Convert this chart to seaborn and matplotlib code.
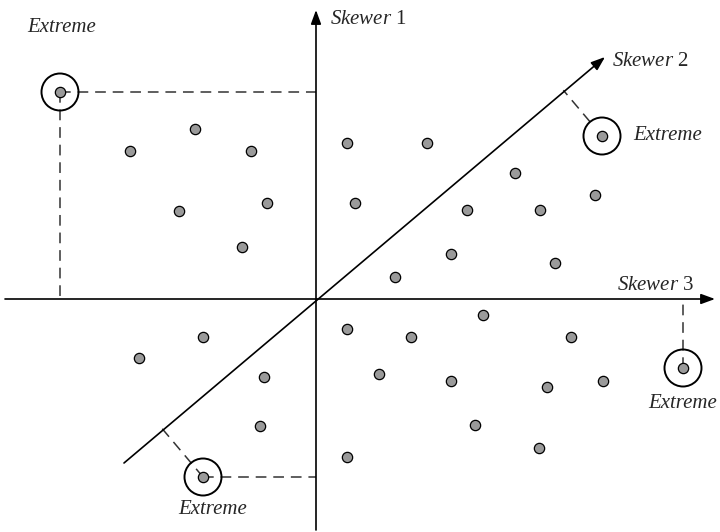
import numpy as np
import pandas as pd
import matplotlib
matplotlib.use('Agg')
import matplotlib.pyplot as plt
import seaborn as sns

# point positions relative to the origin (1 unit = 1 px)
pts_x = [-186, -121, -65, -137, -49, -74,
         31, 111, 199, 39, 151, 224, 279, 135, 239, 79,
         -113, -177, -52, -56,
         31, 167, 95, 255, 63, 135, 231, 287, 159, 223, 31]
pts_y = [148, 170, 148, 88, 96, 52,
         156, 156, 126, 96, 89, 89, 104, 45, 36, 22,
         -38, -59, -78, -127,
         -30, -16, -38, -38, -75, -82, -88, -82, -126, -149, -158]

# extreme points
ext_x = [-256, 286, 367, -113]
ext_y = [207, 163, -69, -178]

# skewer 2 direction
sk2_start = (-192, -164)
sk2_end = (289, 242)

sns.set_style('white')
plt.rcParams['font.family'] = ['Liberation Serif', 'DejaVu Serif']
plt.rcParams['mathtext.fontset'] = 'custom'
plt.rcParams['mathtext.it'] = 'Liberation Serif:italic'
plt.rcParams['mathtext.rm'] = 'Liberation Serif'

fig = plt.figure(figsize=(7.2, 5.32), dpi=100)
ax = fig.add_axes([0, 0, 1, 1])
ax.set_xlim(-316, 404)
ax.set_ylim(-233, 299)
ax.set_aspect('equal')
ax.axis('off')

arrow = dict(arrowstyle='-|>,head_length=0.6,head_width=0.22', color='black',
             lw=1.2, mutation_scale=14, shrinkA=0, shrinkB=0)
ax.annotate('', xy=(399, 0), xytext=(-311, 0), arrowprops=arrow)
ax.annotate('', xy=(0, 289), xytext=(0, -231), arrowprops=arrow)
ax.annotate('', xy=sk2_end, xytext=sk2_start, arrowprops=arrow)

# dashed projection lines
r_ext = 18.5
d = np.array(sk2_end, float) - np.array(sk2_start, float)
d /= np.linalg.norm(d)
dash = dict(color='#333333', lw=1.1, ls=(0, (7, 4.5)), zorder=1)
ax.plot([ext_x[0], 0], [ext_y[0], ext_y[0]], **dash)
ax.plot([ext_x[0], ext_x[0]], [ext_y[0], 0], **dash)
ax.plot([ext_x[2], ext_x[2]], [ext_y[2], 0], **dash)
ax.plot([ext_x[3], 0], [ext_y[3], ext_y[3]], **dash)
for i, start_r in ((1, r_ext), (3, 0)):
    p = np.array([ext_x[i], ext_y[i]], float)
    foot = d * np.dot(p, d)
    u = (foot - p) / np.linalg.norm(foot - p)
    s = p + u * start_r
    ax.plot([s[0], foot[0]], [s[1], foot[1]], **dash)

df = pd.DataFrame({'x': pts_x + ext_x, 'y': pts_y + ext_y})
sns.scatterplot(data=df, x='x', y='y', ax=ax, s=55, color='#9a9a9a',
                edgecolor='black', linewidth=0.9, zorder=3, legend=False)
for x, y in zip(ext_x, ext_y):
    ax.add_patch(plt.Circle((x, y), r_ext, fill=False, ec='black', lw=1.4, zorder=2))

fs = 15
ax.text(14, 279, r'$\mathit{Skewer}$ 1', fontsize=fs, ha='left', va='center')
ax.text(296, 238, r'$\mathit{Skewer}$ 2', fontsize=fs, ha='left', va='center')
ax.text(301, 14, r'$\mathit{Skewer}$ 3', fontsize=fs, ha='left', va='center')
ax.text(-254, 271, 'Extreme', fontsize=fs, style='italic', ha='center', va='center')
ax.text(317, 163, 'Extreme', fontsize=fs, style='italic', ha='left', va='center')
ax.text(367, -104, 'Extreme', fontsize=fs, style='italic', ha='center', va='center')
ax.text(-103, -211, 'Extreme', fontsize=fs, style='italic', ha='center', va='center')

fig.savefig('out.png', dpi=100)
